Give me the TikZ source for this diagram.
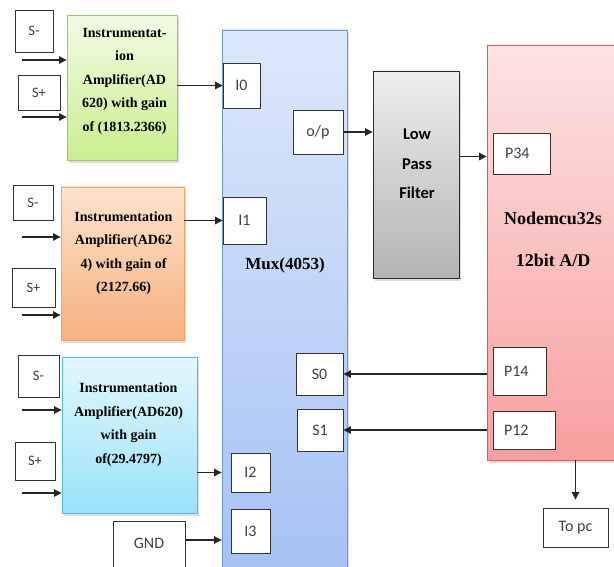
\documentclass[tikz,border=0pt]{standalone}
\usepackage{fontspec}
\setmainfont{Liberation Serif}
\newfontfamily\tnr{Liberation Serif}
\newfontfamily\calibri{Carlito}
\usetikzlibrary{arrows.meta,shadows}

\definecolor{grnTop}{HTML}{F2FBE4}\definecolor{grnBot}{HTML}{C9EF8F}\definecolor{grnLine}{HTML}{9CCC5C}
\definecolor{orgTop}{HTML}{FDE3CD}\definecolor{orgBot}{HTML}{F7B07F}\definecolor{orgLine}{HTML}{EEA56A}
\definecolor{cyaTop}{HTML}{E3F7FD}\definecolor{cyaBot}{HTML}{9AE2F9}\definecolor{cyaLine}{HTML}{4FBDE0}
\definecolor{muxTop}{HTML}{DDE8FB}\definecolor{muxBot}{HTML}{A3C0F4}\definecolor{muxLine}{HTML}{6B9BD6}
\definecolor{lpfTop}{HTML}{EEEEEE}\definecolor{lpfBot}{HTML}{B3B3B3}\definecolor{lpfLine}{HTML}{2A2A2A}
\definecolor{mcuTop}{HTML}{FDE3E3}\definecolor{mcuBot}{HTML}{F89F9F}\definecolor{mcuLine}{HTML}{E05A5A}
\definecolor{portText}{HTML}{3E3E50}

\begin{document}
\begin{tikzpicture}[x=1pt,y=-1pt,
  block/.style={shading=axis, line width=0.9pt, inner sep=0pt,
    drop shadow={shadow xshift=2pt, shadow yshift=-3pt, opacity=0.3, fill=black!45}},
  greenblk/.style={block, draw=grnLine, top color=grnTop, bottom color=grnBot},
  orangeblk/.style={block, draw=orgLine, top color=orgTop, bottom color=orgBot},
  cyanblk/.style={block, draw=cyaLine, top color=cyaTop, bottom color=cyaBot},
  muxblk/.style={block, draw=muxLine, top color=muxTop, bottom color=muxBot},
  lpfblk/.style={block, draw=lpfLine, top color=lpfTop, bottom color=lpfBot},
  mcublk/.style={block, draw=mcuLine, top color=mcuTop, bottom color=mcuBot},
  port/.style={draw=black!80, line width=0.9pt, fill=white, inner sep=0pt,
    font=\calibri\fontsize{16}{18}\selectfont, text=portText},
  sport/.style={port, font=\calibri\fontsize{14.5}{16}\selectfont},
  amptext/.style={font=\tnr\bfseries\fontsize{14}{23.5}\selectfont, align=center, inner sep=0pt},
  bigtext/.style={font=\tnr\bfseries\fontsize{18}{20}\selectfont, inner sep=0pt},
  arr/.style={draw=black!85, line width=1.1pt, -{Triangle[length=7.5pt,width=7.5pt]}}
]
\clip (0,0) rectangle (614,567);

% ---- amplifier blocks ----
\node[greenblk, minimum width=110pt, minimum height=145pt] (amp1) at (122,87.5) {};
\node[amptext] (amp1t) at (124.5,81) {Instrumentat-\\ion\\Amplifier(AD\\620) with gain\\of (1813.2366)};

\node[orangeblk, minimum width=123pt, minimum height=153pt] (amp2) at (122.5,263.5) {};
\node[amptext] (amp2t) at (123.5,253) {Instrumentation\\Amplifier(AD62\\4) with gain of\\(2127.66)};

\node[cyanblk, minimum width=135pt, minimum height=156pt] (amp3) at (129.5,435) {};
\node[amptext] (amp3t) at (128.5,424.5) {Instrumentation\\Amplifier(AD620)\\with gain\\of(29.4797)};

% ---- multiplexer ----
\node[muxblk, minimum width=125pt, minimum height=560pt] (mux) at (284.5,310) {};
\node[font=\tnr\bfseries\fontsize{17}{19}\selectfont, inner sep=0pt] (muxt) at (285,265) {Mux(4053)};

% ---- low pass filter ----
\node[lpfblk, minimum width=86pt, minimum height=207pt] (lpf) at (416,174.5) {};
\node[font=\calibri\bfseries\fontsize{16.5}{29.5}\selectfont, align=center, inner sep=0pt] (lpft) at (417,164) {Low\\Pass\\Filter};

% ---- microcontroller ----
\node[mcublk, minimum width=143pt, minimum height=415pt] (mcu) at (558.5,252.5) {};
\node[bigtext] (mcut1) at (553,218) {Nodemcu32s};
\node[bigtext] (mcut2) at (553,260) {12bit A/D};

% ---- sensor input labels ----
\node[sport, minimum width=38pt, minimum height=42pt] (sm1) at (34,31) {S-};
\node[sport, minimum width=42pt, minimum height=35pt] (sp1) at (39,92.5) {S+};
\node[sport, minimum width=40pt, minimum height=35pt] (sm2) at (33,202.5) {S-};
\node[sport, minimum width=43pt, minimum height=39pt] (sp2) at (33.5,287.5) {S+};
\node[sport, minimum width=41pt, minimum height=42pt] (sm3) at (38.5,376) {S-};
\node[sport, minimum width=40pt, minimum height=38pt] (sp3) at (35,461) {S+};

% ---- mux pins ----
\node[port, minimum width=37pt, minimum height=45pt] (I0) at (241.5,85.5) {I0};
\node[port, minimum width=50pt, minimum height=44pt] (op) at (318,132) {o/p};
\node[port, minimum width=43pt, minimum height=47pt] (I1) at (244.5,220.5) {I1};
\node[port, minimum width=47pt, minimum height=42pt] (S0) at (319.5,374) {S0};
\node[port, minimum width=46pt, minimum height=42pt] (S1) at (320,430) {S1};
\node[port, minimum width=39pt, minimum height=39pt] (I2) at (250.5,472.5) {I2};
\node[port, minimum width=39pt, minimum height=44pt] (I3) at (250.5,531) {I3};
\node[port, minimum width=72pt, minimum height=59pt, text height=11pt, text depth=16pt] (gnd) at (149,550.5) {GND};

% ---- controller pins ----
\node[port, minimum width=57pt, minimum height=41pt, text width=33pt, align=left] (P34) at (521.5,153.5) {P34};
\node[port, minimum width=53pt, minimum height=48pt, text width=31pt, align=left] (P14) at (519.5,371) {P14};
\node[port, minimum width=62pt, minimum height=38pt, text width=40pt, align=left] (P12) at (524,430) {P12};
\node[port, minimum width=65pt, minimum height=39pt] (topc) at (575.5,527.5) {To pc};

% ---- sensor inputs ----
\coordinate (in1a) at (22,60);  \coordinate (in1b) at (22,117);
\coordinate (in2a) at (22,237); \coordinate (in2b) at (22,315);
\coordinate (in3a) at (22,410); \coordinate (in3b) at (22,493);
\foreach \c/\b in {in1a/amp1,in1b/amp1,in2a/amp2,in2b/amp2,in3a/amp3,in3b/amp3}
  \draw[arr] (\c) -- (\c -| \b.west);

% ---- amplifiers to mux ----
\draw[arr] (amp1.east |- I0.west) -- (I0.west);
\draw[arr] (amp2.east |- I1.west) -- (I1.west);
\draw[arr] (amp3.east |- I2.west) -- (I2.west -| mux.west);
\draw[arr] ([yshift=10.5pt]gnd.east) coordinate (g1) -- (g1 -| mux.west);

% ---- signal path ----
\draw[arr] (op.east) -- (op.east -| lpf.west);
\draw[arr] ([yshift=-3pt]lpf.east |- P34.west) coordinate (f1) -- (f1 -| mcu.west);

% ---- select lines ----
\draw[arr] (S0.east -| mcu.west) -- (S0.east);
\draw[arr] (S1.east -| mcu.west) -- (S1.east);

% ---- output ----
\draw[arr, shorten >=8pt] (topc.north |- mcu.south) -- (topc.north);
\end{tikzpicture}
\end{document}
